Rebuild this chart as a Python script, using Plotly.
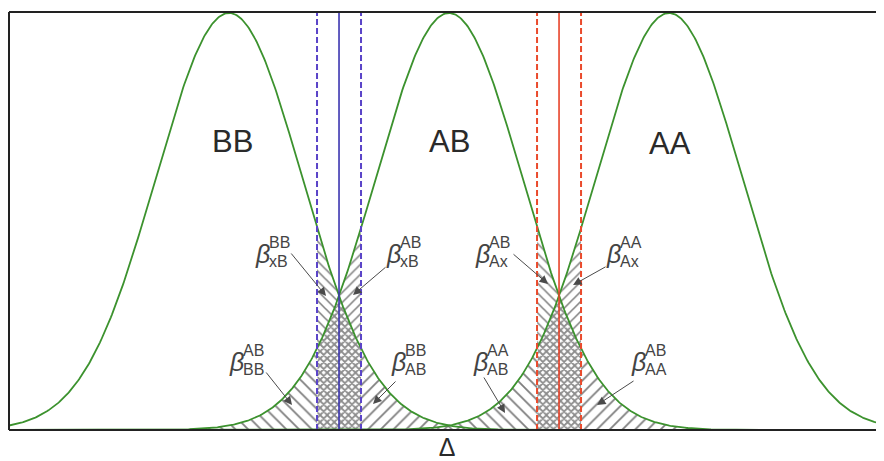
import numpy as np
import plotly.graph_objects as go

# ---- data ----
genotypes = ["BB", "AB", "AA"]
centers = [-1.0, 0.0, 1.0]          # cluster means on the Δ axis
sigma = 0.332                       # common spread of each cluster
peak = 1.0                          # relative peak height
thresholds = [-0.5, 0.5]            # decision boundaries (solid lines)
half_width = 0.1                    # no-call zone half width (dashed lines)
axis_symbol = "Δ"
threshold_colors = ["#3b35b0", "#e8432a"]
dashed_colors = ["#5a44c8", "#ea4a2c"]
beta_labels = [  # (sup, sub)
    ("BB", "xB"), ("AB", "xB"), ("AB", "BB"), ("BB", "AB"),
    ("AB", "Ax"), ("AA", "Ax"), ("AA", "AB"), ("AB", "AA"),
]

X_MIN, X_MAX = -2.0, 1.977
Y_MAX = 1.0024


def dens(c, x):
    return peak * np.exp(-((x - c) ** 2) / (2 * sigma ** 2))


# page pixel -> data helper for text placement (plot area: x 9..884, y 12..430)
def px(xp, yp):
    return (xp - 449) / 220.0, (430 - yp) / 417.0


fig = go.Figure()

HATCH = "#000000"


def add_poly(xs, ys, shape, size, solidity, fg=HATCH):
    fig.add_trace(go.Scatter(
        x=xs, y=ys, mode="lines", fill="toself",
        line=dict(width=0, color="rgba(0,0,0,0)"),
        fillcolor="rgba(0,0,0,0)",
        fillpattern=dict(shape=shape, size=size, solidity=solidity,
                         fgcolor=fg, bgcolor="rgba(0,0,0,0)"),
        hoverinfo="skip", showlegend=False))


def under(fn, a, b):
    g = np.linspace(a, b, 200)
    return np.r_[a, g, b], np.r_[0, fn(g), 0]


def between(flow, fhigh, a, b):
    g = np.linspace(a, b, 100)
    return np.r_[g, g[::-1]], np.r_[fhigh(g), flow(g[::-1])]


for i, t in enumerate(thresholds):
    cL, cR = centers[i], centers[i + 1]
    fL = lambda x, c=cL: dens(c, x)
    fR = lambda x, c=cR: dens(c, x)
    fmin = lambda x: np.minimum(fL(x), fR(x))
    a, b = t - half_width, t + half_width
    xs, ys = under(fR, X_MIN, a); add_poly(xs, ys, "\\", 9, 0.2)
    xs, ys = between(fR, fL, a, t); add_poly(xs, ys, "\\", 7, 0.22)
    xs, ys = under(fmin, a, b); add_poly(xs, ys, "x", 5, 0.6, "#1a1a1a")
    xs, ys = between(fL, fR, t, b); add_poly(xs, ys, "/", 7, 0.22)
    xs, ys = under(fL, b, X_MAX); add_poly(xs, ys, "/", 9, 0.2)

# curves
xg = np.linspace(X_MIN, X_MAX, 800)
for c in centers:
    fig.add_trace(go.Scatter(x=xg, y=dens(c, xg), mode="lines",
                             line=dict(color="#3c922e", width=1.8),
                             hoverinfo="skip", showlegend=False))

# threshold lines
for i, t in enumerate(thresholds):
    fig.add_trace(go.Scatter(x=[t, t], y=[0, Y_MAX], mode="lines",
                             line=dict(color=threshold_colors[i], width=1.6),
                             hoverinfo="skip", showlegend=False))
    for s in (-1, 1):
        fig.add_trace(go.Scatter(x=[t + s * half_width] * 2, y=[0, Y_MAX], mode="lines",
                                 line=dict(color=dashed_colors[i], width=2, dash="6px,3px"),
                                 hoverinfo="skip", showlegend=False))

annotations = []
TXT = "#2a2a2a"
# genotype labels
for name, (xp, yp) in zip(genotypes, [(232, 141), (449, 141), (670, 143)]):
    x, y = px(xp, yp)
    annotations.append(dict(x=x, y=y, text=name, showarrow=False,
                            font=dict(size=31, color=TXT, family="Liberation Sans")))

beta_pos = [  # beta centre pixel positions
    (262, 254), (393, 254), (236, 362), (398, 362),
    (482, 254), (613, 254), (480, 362), (638, 362),
]
arrows = [  # tail -> head pixel positions
    ((290, 252), (326, 296)), ((387, 266), (353, 295)),
    ((265, 371), (292, 405)), ((397, 380), (373, 404)),
    ((512, 253), (548, 284)), ((607, 266), (573, 285)),
    ((483, 376), (505, 413)), ((635, 380), (597, 405)),
]
for (sup, sub), (bx, by), (tail, head) in zip(beta_labels, beta_pos, arrows):
    x, y = px(bx, by)
    annotations.append(dict(x=x, y=y, text="<i>β</i>", showarrow=False,
                            font=dict(size=25, color="#444", family="Liberation Sans")))
    x, y = px(bx + 5, by - 12)
    annotations.append(dict(x=x, y=y, text=sup, showarrow=False, xanchor="left",
                            font=dict(size=16, color="#444", family="Liberation Sans")))
    x, y = px(bx + 5, by + 7)
    annotations.append(dict(x=x, y=y, text=sub, showarrow=False, xanchor="left",
                            font=dict(size=16, color="#444", family="Liberation Sans")))
    hx, hy = px(*head)
    tx, ty = px(*tail)
    annotations.append(dict(x=hx, y=hy, ax=tx, ay=ty, axref="x", ayref="y",
                            text="", showarrow=True, arrowhead=2, arrowsize=1.7,
                            arrowwidth=1, arrowcolor="#4a4a4a"))

shapes = [
    dict(type="line", xref="paper", yref="paper", x0=0, x1=1, y0=1, y1=1,
         line=dict(color="#222", width=2)),
    dict(type="line", xref="paper", yref="paper", x0=0, x1=1, y0=0, y1=0,
         line=dict(color="#222", width=2)),
    dict(type="line", xref="paper", yref="paper", x0=0, x1=0, y0=0, y1=1,
         line=dict(color="#222", width=2)),
]

delta_x, _ = px(447, 0)

# the page body has an 8px margin, so the figure is sized to land on the
# reference's plot frame (x 9..884, y 12..430 in the window)
fig.update_layout(
    width=876, height=453,
    margin=dict(l=1, r=0, t=4, b=31),
    paper_bgcolor="white", plot_bgcolor="white",
    xaxis=dict(range=[X_MIN, X_MAX], fixedrange=True, automargin=False,
               showgrid=False, zeroline=False, showline=False, ticks="",
               tickmode="array", tickvals=[delta_x], ticktext=[axis_symbol],
               tickfont=dict(size=25, color=TXT, family="Liberation Sans"),
               ticklabelstandoff=0),
    yaxis=dict(range=[0, Y_MAX], visible=False, fixedrange=True),
    annotations=annotations, shapes=shapes, showlegend=False,
)

fig.write_html("out.html")
